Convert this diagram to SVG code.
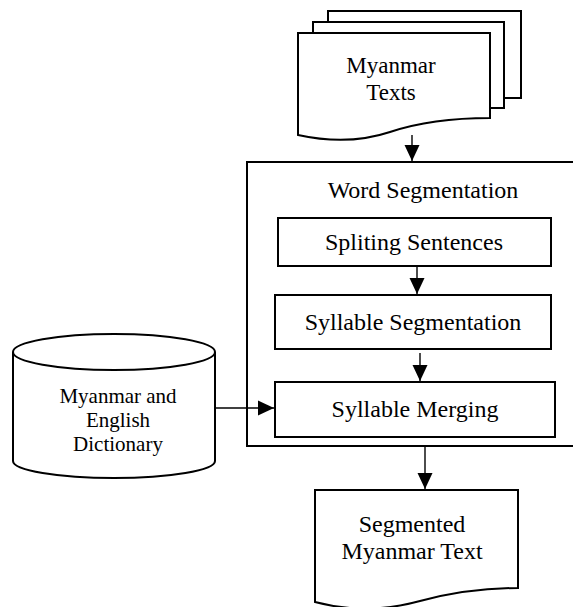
<svg xmlns="http://www.w3.org/2000/svg" width="573" height="607" viewBox="0 0 573 607">
<style>
.s{fill:#fff;stroke:#000;stroke-width:2}
.t{font-family:"Liberation Serif","Times New Roman",serif;font-size:24px;fill:#000;text-anchor:middle}
.c{stroke:#000;stroke-width:1.4;fill:none}
</style>
<defs>
<marker id="ah" markerUnits="userSpaceOnUse" markerWidth="16" markerHeight="16" viewBox="0 0 16 16" refX="16" refY="8" orient="auto">
<path d="M0,0.5 L16,8 L0,15.5 Z" fill="#000"/>
</marker>
</defs>
<rect width="573" height="607" fill="#fff"/>
<g id="myanmar-texts">
<rect class="s" x="328" y="11" width="193" height="87"/>
<rect class="s" x="313" y="22" width="191" height="86"/>
<path class="s" d="M298,33 L490,33 L490,118 C450,118 420,122 390,132 C360,142 330,142 298,135 Z"/>
<text class="t" x="391" y="73" style="font-size:23px">Myanmar</text>
<text class="t" x="391" y="100" style="font-size:23px">Texts</text>
</g>
<g id="word-segmentation">
<rect class="s" x="247" y="162" width="335" height="284"/>
<text class="t" x="423" y="198">Word Segmentation</text>
</g>
<g id="spliting-sentences">
<rect class="s" x="278" y="218" width="273" height="48"/>
<text class="t" x="414" y="250">Spliting Sentences</text>
</g>
<g id="syllable-segmentation">
<rect class="s" x="275" y="295" width="276" height="54"/>
<text class="t" x="413" y="330">Syllable Segmentation</text>
</g>
<g id="syllable-merging">
<rect class="s" x="275" y="382" width="280" height="55"/>
<text class="t" x="415" y="417">Syllable Merging</text>
</g>
<g id="dictionary">
<path class="s" d="M13,352 A101,18 0 0 1 215,352 L215,461 A101,17 0 0 1 13,461 Z"/>
<path class="s" d="M13,352 A101,18 0 0 0 215,352" fill="none"/>
<text class="t" x="118" y="403" style="font-size:21px">Myanmar and</text>
<text class="t" x="118" y="427" style="font-size:21px">English</text>
<text class="t" x="118" y="451" style="font-size:21px">Dictionary</text>
</g>
<g id="segmented-text">
<path class="s" d="M315,490 L518,490 L518,588 C480,588 450,593 420,601 C380,612 345,610 315,602 Z"/>
<text class="t" x="412" y="532">Segmented</text>
<text class="t" x="412" y="559">Myanmar Text</text>
</g>
<g id="connectors">
<line class="c" x1="412" y1="135" x2="412" y2="161" marker-end="url(#ah)"/>
<line class="c" x1="417" y1="266" x2="417" y2="294" marker-end="url(#ah)"/>
<line class="c" x1="420" y1="353" x2="420" y2="381" marker-end="url(#ah)"/>
<line class="c" x1="215" y1="408" x2="274" y2="408" marker-end="url(#ah)"/>
<line class="c" x1="425" y1="446" x2="425" y2="489" marker-end="url(#ah)"/>
</g>
</svg>
